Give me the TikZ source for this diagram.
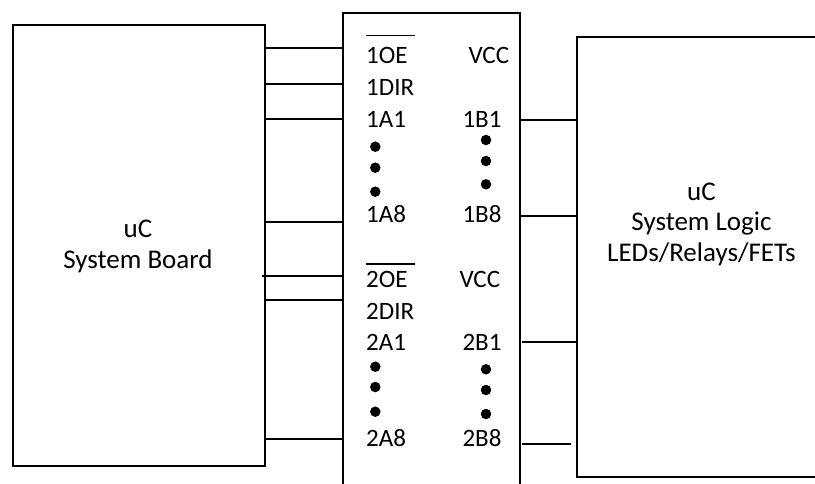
\documentclass[tikz,border=0pt]{standalone}
\usepackage{fontspec}
\setmainfont{Carlito}
\begin{document}
\begin{tikzpicture}[x=1pt,y=-1pt,
  box/.style={draw,line width=1.6pt,inner sep=0pt,anchor=north west},
  wire/.style={line width=1.6pt},
  pin/.style={anchor=base west,inner sep=0pt,font=\fontsize{25}{30}\selectfont},
  lbl/.style={align=center,inner sep=0pt,font=\fontsize{27}{30.5}\selectfont},
  dotm/.style={fill=black,circle,inner sep=0pt,minimum size=10.5pt}]
\useasboundingbox (0,0) rectangle (815,483);
\clip (0,0) rectangle (815,483);
% boxes
\node[box,minimum width=252pt,minimum height=441pt] (sb) at (12,24) {};
\node[box,minimum width=177pt,minimum height=500pt] (ic) at (342.3,12.3) {};
\node[box,minimum width=270pt,minimum height=440pt] (lg) at (576,36) {};
% box labels
\node[lbl,anchor=base] (sbt) at (138,268.3) {uC\\System Board};
\node[lbl,anchor=base] (lgt) at (701.5,261) {uC\\System Logic\\LEDs/Relays/FETs};
% pin labels, group 1
\node[pin] (p1oe) at (366,63.3) {1OE};
\node[pin] (p1dir) at (366,95.7) {1DIR};
\node[pin] (p1a1) at (366,127.3) {1A1};
\node[pin] (p1a8) at (366,222.7) {1A8};
\node[pin] (p1vcc) at (468.3,63.3) {VCC};
\node[pin] (p1b1) at (462.3,127.3) {1B1};
\node[pin] (p1b8) at (462.3,222.7) {1B8};
\draw[line width=1.3pt] (365.7,35.7) -- (414.7,35.7);
% pin labels, group 2
\node[pin] (p2oe) at (366,287.3) {2OE};
\node[pin] (p2dir) at (366,319) {2DIR};
\node[pin] (p2a1) at (366,350) {2A1};
\node[pin] (p2a8) at (366,446.7) {2A8};
\node[pin] (p2vcc) at (459.3,287.3) {VCC};
\node[pin] (p2b1) at (462.3,350) {2B1};
\node[pin] (p2b8) at (462.3,446.7) {2B8};
\draw[line width=1.3pt] (365.7,264) -- (414.7,264);
% dots
\foreach \i/\y in {1/146.7,2/167.7,3/191.7,4/366.7,5/387,6/411.7}
  \node[dotm] (dl\i) at (375.3,\y) {};
\foreach \i/\y in {1/140,2/161,3/184.3,4/369.3,5/390,6/414}
  \node[dotm] (dr\i) at (486,\y) {};
% left wires
\foreach \y in {48,84,119,222,300,439}
  \draw[wire] (sb.east |- 0,\y) -- (ic.west |- 0,\y);
\coordinate (oe2s) at (262,276);
\draw[wire] (oe2s) -- (ic.west |- oe2s);
% right wires
\foreach \y in {120,216}
  \draw[wire] (ic.east |- 0,\y) -- (lg.west |- 0,\y);
\coordinate (b1s) at (521.7,341.7);
\draw[wire] (b1s) -- (lg.west |- b1s);
\coordinate (b8s) at (521.7,444);
\coordinate (b8e) at (570.7,444);
\draw[wire] (b8s) -- (b8e);
\end{tikzpicture}
\end{document}
